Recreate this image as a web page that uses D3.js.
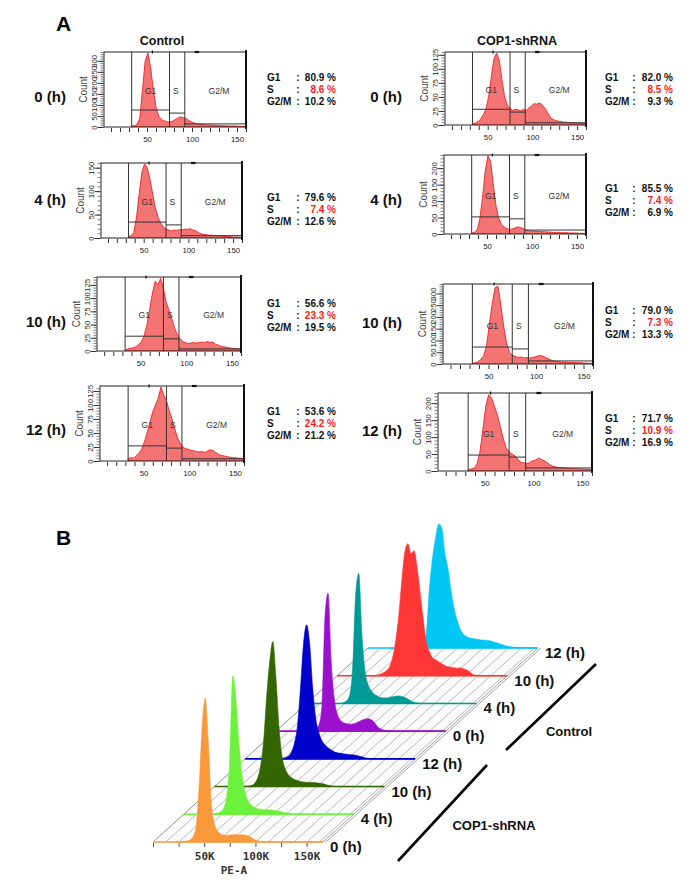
<!DOCTYPE html>
<html><head><meta charset="utf-8">
<script src="https://cdn.jsdelivr.net/npm/d3@7"></script>
<style>
body{margin:0;background:#fff;}
svg{display:block;font-family:"Liberation Sans",Arial,sans-serif;}
</style></head><body>
<svg id="fig" width="700" height="883"></svg>
<script>
// ---------------- DATA ----------------
const timeLabels = ["0 (h)", "4 (h)", "10 (h)", "12 (h)"];
const groupNames = ["Control", "COP1-shRNA"];

const ctrlG1  = [80.9, 79.6, 56.6, 53.6];
const ctrlS   = [8.6, 7.4, 23.3, 24.2];
const ctrlG2M = [10.2, 12.6, 19.5, 21.2];
const copG1   = [82.0, 85.5, 79.0, 71.7];
const copS    = [8.5, 7.4, 7.3, 10.9];
const copG2M  = [9.3, 6.9, 13.3, 16.9];

// Panel A histograms: bin centres 33,36,...,159 (channel units)
const ctrl0h  = [4,6,12,40,170,300,335,270,170,90, 50,34,28,24,22,26,32,40,46,42, 40,30,24,18,15,13,12,10,10,9, 8,8,7,6,6,5,5,4,5,4, 3,3,2];
const ctrl4h  = [3,5,12,45,95,140,158,150,125,95, 65,45,32,24,19,17,15,17,16,18, 17,19,18,20,17,16,12,9,8,7, 6,6,5,5,4,4,3,3,3,2, 2,2,1];
const ctrl10h = [2,4,5,6,8,12,18,30,50,80, 110,132,125,138,118,92,78,62,45,32, 24,18,16,14,15,16,15,16,17,16, 18,16,17,13,11,9,8,7,6,5, 5,4,3];
const ctrl12h = [4,6,5,10,14,22,35,52,70,88, 100,112,132,118,108,90,75,58,42,32, 25,22,21,19,18,17,16,17,15,18, 20,19,15,12,10,9,8,7,6,6, 5,5,4];
const cop0h   = [2,3,6,10,18,28,50,85,118,128, 115,80,50,35,30,26,28,27,25,28, 26,30,34,38,37,39,36,30,22,14, 10,8,7,6,5,5,4,4,4,3, 3,3,2];
const cop4h   = [3,5,12,45,110,190,238,220,150,85, 48,30,22,16,14,15,18,22,20,17, 12,10,9,9,8,8,7,7,6,6, 5,5,5,4,4,4,3,3,3,3, 2,2,2];
const cop10h  = [3,5,10,20,35,80,170,260,325,330, 250,160,90,50,38,32,28,30,26,28, 25,28,30,34,36,32,26,20,15,12, 10,9,8,8,7,6,6,5,5,4, 4,3,3];
const cop12h  = [4,6,8,20,55,120,190,225,215,190, 165,130,95,68,55,50,45,35,26,24, 22,25,30,32,38,34,30,25,18,14, 12,10,10,9,8,8,7,7,6,6, 5,5,4];

const ctrlYMax = [340, 160, 140, 134];
const copYMax  = [130, 240, 340, 230];
const ctrlYStep = [50, 50, 25, 25];
const copYStep  = [25, 50, 50, 50];
const gateEdges = [33, 75, 92, 160];
const ctrlGateLevel = [[77,63,14],[34,28,5],[28,23,4],[27,23,4]];
const copGateLevel  = [[28,23,4],[52,46,12],[72,64,13],[47,41,9]];
const xTickLabels = [50, 100, 150];

// Panel B: PE-A bins 21K,24K,...,165K ; relative counts
const bLabels = ["0 (h)", "4 (h)", "10 (h)", "12 (h)", "0 (h)", "4 (h)", "10 (h)", "12 (h)"];
const bCop0h  = [0,0,0,5,10,20,50,150,550,1150, 1440,1000,380,180,110,80,70,65,70,72, 75,70,72,68,60,45,25,12,6,3, 2,0,0,0,0,0,0,0,0,0, 0,0,0,0,0,0,0,0,0];
const bCop4h  = [0,0,0,5,10,25,60,180,550,1385, 1150,700,380,210,130,90,70,55,50,45, 45,42,40,35,30,22,15,10,6,3, 2,0,0,0,0,0,0,0,0,0, 0,0,0,0,0,0,0,0,0];
const bCop10h = [0,0,0,0,5,10,30,80,200,450, 900,1250,1450,1100,600,300,180,120,90,70, 60,50,45,42,40,40,38,35,30,22, 12,6,3,0,0,0,0,0,0,0, 0,0,0,0,0,0,0,0,0];
const bCop12h = [0,0,0,0,0,5,10,25,60,150, 320,700,1150,1340,1150,700,400,260,180,140, 110,90,70,60,55,50,45,42,40,35, 28,20,10,5,2,0,0,0,0,0, 0,0,0,0,0,0,0,0,0];
const bCtrl0h = [0,0,0,0,0,5,15,60,250,1150, 1380,700,330,170,110,85,75,70,72,80, 95,110,120,125,115,90,50,25,12,6, 3,0,0,0,0,0,0,0,0,0, 0,0,0,0,0,0,0,0,0];
const bCtrl4h = [0,0,0,0,0,10,25,80,350,1100, 1300,700,330,190,130,95,75,60,55,55, 60,68,72,75,70,60,45,25,10,5, 2,0,0,0,0,0,0,0,0,0, 0,0,0,0,0,0,0,0,0];
const bCtrl10h= [0,0,0,0,0,0,5,15,30,50, 90,180,350,600,950,1240,1320,1220,1250,1080, 820,560,330,240,180,160,140,120,100,90, 85,80,75,80,70,60,40,15,5,0, 0,0,0,0,0,0,0,0,0];
const bCtrl12h= [0,0,0,0,0,0,0,0,0,0, 5,20,150,600,900,1100,1240,1200,950,800, 580,400,280,190,140,115,100,95,90,85, 80,80,75,70,60,50,40,30,20,15, 10,8,6,5,4,3,2,1,0];
const peTickLabels = [50, 100, 150];

// ---------------- DRAWING ----------------
const svg = d3.select("#fig");
const FONT = "'Liberation Sans', Arial, sans-serif";
svg.append("rect").attr("width",700).attr("height",883).attr("fill","#fff");

const histBins = d3.range(33, 160, 3);
const peBins = d3.range(21, 166, 3);

svg.append("text").attr("x",56).attr("y",31).attr("font-size",21).attr("font-weight","bold").text("A");
svg.append("text").attr("x",56).attr("y",545).attr("font-size",21).attr("font-weight","bold").text("B");

const layout = {
  ctrl: {boxes:[[104,52,246,127],[101,163,242,238],[97,277,241,351],[100,386,244,461]],
         statY:[77,197,303,411], timeY:[97,200,322,430], timeX:66, statX:[267,298,336], titleX:162},
  cop:  {boxes:[[445,52,586,125],[444,155,586,234],[443,284,593,364],[438,393,592,471]],
         statY:[77,188,310,418], timeY:[97,200,323,431], timeX:402, statX:[605,634,673], titleX:517}
};

let clipId = 0;
function drawPanel(box, values, yMax, yStep, gateLv){
  const [l,t,r,b] = box;
  const x = d3.scaleLinear().domain([0,160]).range([l-2, r]);
  const y = d3.scaleLinear().domain([0,yMax]).range([b,t]);
  const g = svg.append("g");
  const cid = "clip" + (clipId++);
  g.append("clipPath").attr("id",cid).append("rect")
    .attr("x",l).attr("y",t).attr("width",r-l).attr("height",b-t);
  const area = d3.area().x((d,i)=>x(histBins[i])).y0(y(0)).y1(d=>y(d)).curve(d3.curveLinear);
  g.append("path").datum(values).attr("clip-path",`url(#${cid})`).attr("d",area)
    .attr("fill","#f47474").attr("stroke","#ec2424").attr("stroke-width",0.9).attr("stroke-linejoin","round");
  g.selectAll(null).data(gateEdges.slice(0,3)).join("line")
    .attr("x1",d=>x(d)).attr("x2",d=>x(d)).attr("y1",t).attr("y2",b)
    .attr("stroke","#333").attr("stroke-width",1);
  const segs = [[gateEdges[0],gateEdges[1],gateLv[0]],[gateEdges[1],gateEdges[2],gateLv[1]],[gateEdges[2],gateEdges[3],gateLv[2]]];
  g.selectAll(null).data(segs).join("line")
    .attr("x1",d=>x(d[0])).attr("x2",d=>x(d[1])).attr("y1",d=>y(d[2])).attr("y2",d=>y(d[2]))
    .attr("stroke","#333").attr("stroke-width",1);
  g.selectAll(null).data([["G1",54],["S",82],["G2/M",130]]).join("text")
    .attr("x",d=>x(d[1])).attr("y",t+(b-t)*0.52+3).attr("text-anchor","middle")
    .attr("font-size",8.5).attr("fill","#333").text(d=>d[0]);
  g.append("rect").attr("x",l).attr("y",t).attr("width",r-l).attr("height",b-t)
    .attr("fill","none").attr("stroke","#222").attr("stroke-width",1);
  g.append("line").attr("x1",r).attr("x2",r).attr("y1",t-2).attr("y2",b+2).attr("stroke","#111").attr("stroke-width",2);
  g.append("line").attr("x1",x(103)).attr("x2",x(108)).attr("y1",t).attr("y2",t).attr("stroke","#111").attr("stroke-width",2.2);
  g.append("line").attr("x1",x(56)).attr("x2",x(56)).attr("y1",t-1.5).attr("y2",t+1.5).attr("stroke","#111").attr("stroke-width",1.2);
  const xa = g.append("g").attr("transform",`translate(0,${b+1})`)
    .call(d3.axisBottom(x).tickValues(d3.range(10,161,10)).tickSize(4).tickPadding(4)
      .tickFormat(d=> xTickLabels.includes(d) ? String(d) : ""));
  xa.select(".domain").remove();
  xa.selectAll("line").attr("stroke","#333");
  xa.selectAll("text").attr("font-size",7.8).attr("fill","#222").attr("font-family",FONT);
  const ym = g.append("g").attr("transform",`translate(${l-0.5},0)`)
    .call(d3.axisLeft(y).tickValues(d3.range(0,yMax+0.01,yStep/5)).tickSize(3).tickFormat(""));
  ym.select(".domain").remove();
  ym.selectAll("line").attr("stroke","#444").attr("stroke-width",0.7);
  const ya = g.append("g").attr("transform",`translate(${l-0.5},0)`)
    .call(d3.axisLeft(y).tickValues(d3.range(0,yMax+0.01,yStep)).tickSize(6).tickPadding(0));
  ya.select(".domain").remove();
  ya.selectAll("line").attr("stroke","#333");
  ya.selectAll("text").attr("transform","rotate(-90)").attr("x",0).attr("y",-7).attr("dy",0)
    .attr("text-anchor","middle").attr("font-size",7.8).attr("fill","#222").attr("font-family",FONT);
  g.append("text").attr("transform",`translate(${l-21},${(t+b)/2}) rotate(-90)`)
    .attr("text-anchor","middle").attr("dy","0.35em").attr("font-size",10).attr("fill","#444").text("Count");
}

function drawStats(statX, yTop, g1, s, g2m){
  const rows = [["G1", g1, "#111"], ["S", s, "#ff1a1a"], ["G2/M", g2m, "#111"]];
  rows.forEach((rw, k) => {
    const yy = yTop + k*12 + 4;
    svg.append("text").attr("x",statX[0]).attr("y",yy).attr("font-size",10).attr("font-weight","bold").attr("fill","#111").text(rw[0]);
    svg.append("text").attr("x",statX[1]).attr("y",yy).attr("text-anchor","middle").attr("font-size",10).attr("font-weight","bold").attr("fill","#111").text(":");
    svg.append("text").attr("x",statX[2]).attr("y",yy).attr("text-anchor","end").attr("font-size",10).attr("font-weight","bold").attr("fill",rw[2]).text(rw[1].toFixed(1) + " %");
  });
}

const groups = [
  {key:"ctrl", hists:[ctrl0h,ctrl4h,ctrl10h,ctrl12h], yMax:ctrlYMax, yStep:ctrlYStep, gates:ctrlGateLevel, g1:ctrlG1, s:ctrlS, g2m:ctrlG2M, name:groupNames[0]},
  {key:"cop",  hists:[cop0h,cop4h,cop10h,cop12h], yMax:copYMax, yStep:copYStep, gates:copGateLevel, g1:copG1, s:copS, g2m:copG2M, name:groupNames[1]}
];
groups.forEach(gr => {
  const L = layout[gr.key];
  svg.append("text").attr("x",L.titleX).attr("y",45).attr("text-anchor","middle")
    .attr("font-size",12.5).attr("font-weight","bold").attr("fill","#111").text(gr.name);
  gr.hists.forEach((h,i) => {
    drawPanel(L.boxes[i], h, gr.yMax[i], gr.yStep[i], gr.gates[i]);
    svg.append("text").attr("x",L.timeX).attr("y",L.timeY[i]+5).attr("text-anchor","end")
      .attr("font-size",15).attr("font-weight","bold").attr("fill","#111").text(timeLabels[i]);
    drawStats(L.statX, L.statY[i], gr.g1[i], gr.s[i], gr.g2m[i]);
  });
});

// ---------------- PANEL B ----------------
const bSeries = [bCop0h, bCop4h, bCop10h, bCop12h, bCtrl0h, bCtrl4h, bCtrl10h, bCtrl12h];
const bColors = ["#f9993a", "#6cf23c", "#336600", "#0000cc", "#9a10cc", "#009a96", "#ff3636", "#00c6f4"];

const peX = d3.scaleLinear().domain([0,166]).range([0,170]);
const peY = d3.scaleLinear().domain([0,1500]).range([0,-150]);
const depthX = d3.scaleLinear().domain([0,7]).range([153,368]);
const depthY = d3.scaleLinear().domain([0,7]).range([842,648]);

const bg = svg.append("g");
const floorPts = [[depthX(0)+peX(0),depthY(0)],[depthX(0)+peX(166),depthY(0)],[depthX(7)+peX(166),depthY(7)],[depthX(7)+peX(0),depthY(7)]];
bg.append("polygon").attr("points",floorPts.map(p=>p.join(",")).join(" ")).attr("fill","#fbfbfb").attr("stroke","none");
bg.selectAll(null).data(d3.range(12.5,166,12.5)).join("line")
  .attr("x1",d=>depthX(0)+peX(d)).attr("y1",depthY(0))
  .attr("x2",d=>depthX(7)+peX(d)).attr("y2",depthY(7))
  .attr("stroke","#a8a8a8").attr("stroke-width",0.8);
bg.append("line").attr("x1",floorPts[0][0]).attr("y1",floorPts[0][1]).attr("x2",floorPts[3][0]).attr("y2",floorPts[3][1])
  .attr("stroke","#888").attr("stroke-width",0.9);
[0,3].forEach(off => {
  bg.append("line").attr("x1",floorPts[1][0]+off).attr("y1",floorPts[1][1]).attr("x2",floorPts[2][0]+off).attr("y2",floorPts[2][1])
    .attr("stroke","#999").attr("stroke-width",0.9);
});

const bArea = d3.area().x((d,i)=>peX(peBins[i])).y0(peY(0)).y1(d=>peY(d)).curve(d3.curveMonotoneX);
for (let i = 7; i >= 0; i--) {
  const lg = bg.append("g").attr("transform",`translate(${depthX(i)},${depthY(i)})`);
  lg.append("line").attr("x1",peX(0)).attr("x2",peX(166)).attr("y1",0).attr("y2",0)
    .attr("stroke",bColors[i]).attr("stroke-width",1.6);
  lg.append("path").datum(bSeries[i]).attr("d",bArea).attr("fill",bColors[i]).attr("stroke",bColors[i]).attr("stroke-width",0.6);
  lg.append("text").attr("x",peX(166)+7).attr("y",10).attr("font-size",15).attr("font-weight","bold").attr("fill","#111").text(bLabels[i]);
}
const pa = bg.append("g").attr("transform",`translate(${depthX(0)},${depthY(0)+1})`)
  .call(d3.axisBottom(peX).tickValues(d3.range(0,166,25)).tickSize(4).tickPadding(5)
    .tickFormat(d => peTickLabels.includes(d) ? d + "K" : ""));
pa.select(".domain").remove();
pa.selectAll("line").attr("stroke","#555");
pa.selectAll("text").attr("font-family","'DejaVu Sans Mono', monospace").attr("font-weight","bold").attr("font-size",11).attr("fill","#333");
bg.append("text").attr("x",234).attr("y",874).attr("text-anchor","middle")
  .attr("font-family","'DejaVu Sans Mono', monospace").attr("font-weight","bold").attr("font-size",11).attr("fill","#333").text("PE-A");

bg.append("line").attr("x1",506).attr("y1",750).attr("x2",596).attr("y2",664).attr("stroke","#000").attr("stroke-width",2.6);
bg.append("line").attr("x1",398).attr("y1",861).attr("x2",487).attr("y2",765).attr("stroke","#000").attr("stroke-width",2.6);
bg.append("text").attr("x",569).attr("y",736).attr("text-anchor","middle").attr("font-size",13).attr("font-weight","bold").attr("fill","#111").text(groupNames[0]);
bg.append("text").attr("x",494).attr("y",830).attr("text-anchor","middle").attr("font-size",13).attr("font-weight","bold").attr("fill","#111").text(groupNames[1]);
</script>
</body></html>
